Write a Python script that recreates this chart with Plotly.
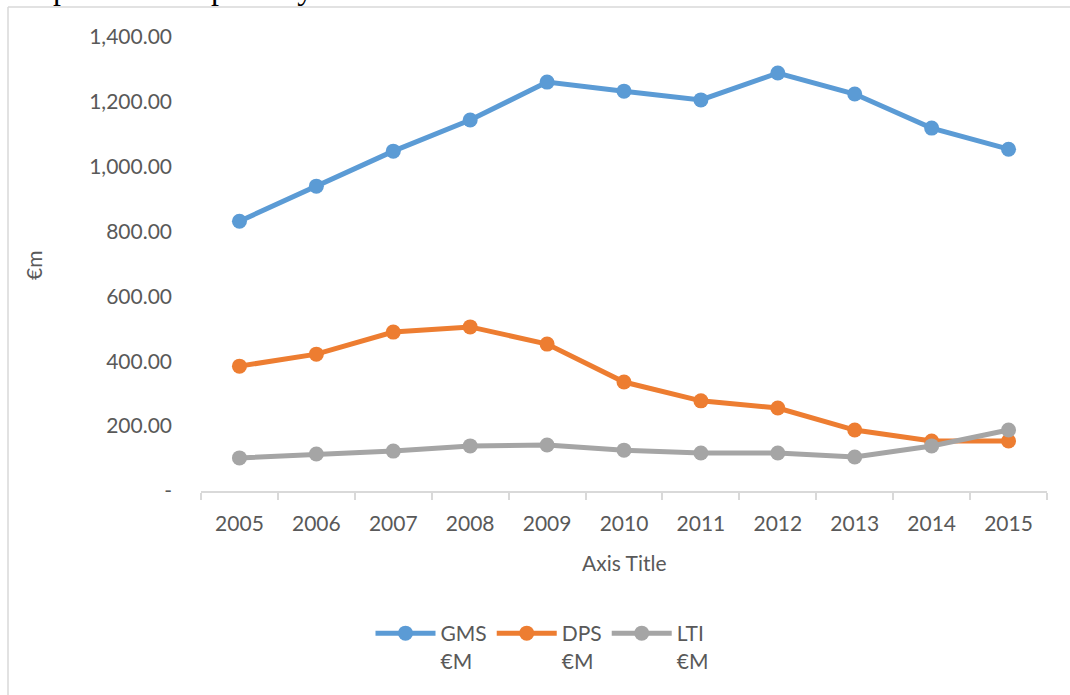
import plotly.graph_objects as go

# Annual spend per scheme, € millions
years = ["2005", "2006", "2007", "2008", "2009", "2010", "2011", "2012", "2013", "2014", "2015"]
gms = [832, 940, 1048, 1144, 1261, 1233, 1206, 1289, 1224, 1119, 1054]
dps = [385, 422, 490, 506, 453, 336, 278, 256, 188, 154, 154]
lti = [102, 114, 123, 139, 142, 126, 117, 117, 105, 139, 188]

series_names = ["GMS<br>€M", "DPS<br>€M", "LTI<br>€M"]
series_colors = ["#5B9BD5", "#ED7D31", "#A5A5A5"]

y_ticks = [0, 200, 400, 600, 800, 1000, 1200, 1400]
y_ticktext = ["-" if v == 0 else f"{v:,.2f}" for v in y_ticks]

FONT = "Lato"
TXT = "#595959"
FRAME = "#D9D9D9"

fig = go.Figure()
for name, vals, col in zip(series_names, [gms, dps, lti], series_colors):
    fig.add_trace(go.Scatter(
        x=years, y=vals, name=name, mode="lines+markers",
        line=dict(color=col, width=5),
        marker=dict(color=col, size=15),
    ))

# plot-area geometry in pixels (used to place the free-floating text and frame)
L, R, T, B = 201, 23, 37, 204
W, H = 1070 - L - R, 695 - T - B


def px_x(x):
    return (x - L) / W


def px_y(y):
    return (695 - B - y) / H


fig.update_layout(
    width=1070, height=695,
    margin=dict(l=L, r=R, t=T, b=B),
    paper_bgcolor="white", plot_bgcolor="white",
    font=dict(family=FONT, size=21, color=TXT),
    showlegend=True,
    legend=dict(
        orientation="h", x=px_x(542), xanchor="center",
        y=px_y(613), yanchor="top",
        valign="top", font=dict(size=21, color=TXT),
        itemwidth=60, tracegroupgap=0,
    ),
    xaxis=dict(
        type="category", range=[-0.5, 10.5],
        showline=True, linecolor=FRAME, linewidth=1.5,
        ticks="outside", tickson="boundaries", ticklen=7, tickcolor=FRAME, tickwidth=1.5,
        showgrid=False, zeroline=False,
        tickfont=dict(size=21, color=TXT), ticklabelstandoff=13,
    ),
    yaxis=dict(
        range=[0, 1400], tickvals=y_ticks, ticktext=y_ticktext,
        showline=False, showgrid=False, zeroline=False, ticks="",
        tickfont=dict(size=21, color=TXT), ticklabelstandoff=28,
    ),
    annotations=[
        dict(text="Axis Title", x=0.5, y=px_y(562), xref="paper", yref="paper",
             xanchor="center", yanchor="middle", showarrow=False,
             font=dict(size=21, color=TXT)),
        dict(text="€m", x=px_x(33), y=px_y(266), xref="paper", yref="paper",
             xanchor="center", yanchor="middle", showarrow=False, textangle=-90,
             font=dict(size=21, color=TXT)),
        dict(text="Graph 4: Total spend by PCRS scheme.", x=px_x(3), y=px_y(-12),
             xref="paper", yref="paper", xanchor="left", yanchor="middle",
             showarrow=False,
             font=dict(family="Liberation Serif", size=32, color="black")),
    ],
    shapes=[
        dict(type="line", xref="paper", yref="paper",
             x0=px_x(8), x1=px_x(1080), y0=px_y(7), y1=px_y(7),
             line=dict(color=FRAME, width=1.5)),
        dict(type="line", xref="paper", yref="paper",
             x0=px_x(8), x1=px_x(8), y0=px_y(7), y1=px_y(710),
             line=dict(color=FRAME, width=1.5)),
    ],
)

fig.write_html("out.html")
